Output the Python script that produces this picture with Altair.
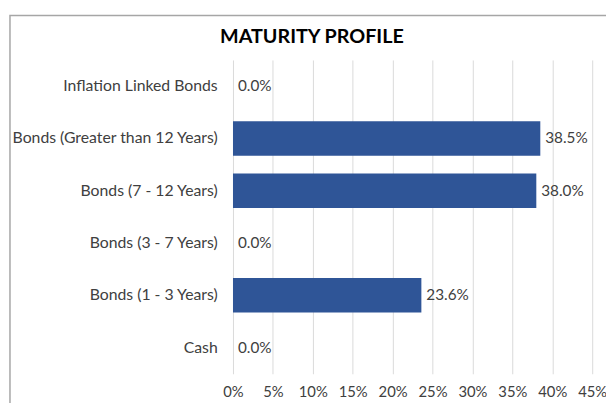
import altair as alt
import pandas as pd

categories = [
    "Inflation Linked Bonds",
    "Bonds (Greater than 12 Years)",
    "Bonds (7 - 12 Years)",
    "Bonds (3 - 7 Years)",
    "Bonds (1 - 3 Years)",
    "Cash",
]
values = [0.0, 0.385, 0.380, 0.0, 0.236, 0.0]
tick_values = [0, 0.05, 0.10, 0.15, 0.20, 0.25, 0.30, 0.35, 0.40, 0.45]
chart_title = ["MATURITY PROFILE"]

df = pd.DataFrame({"category": categories, "value": values})

FONT = "Lato"

base = alt.Chart(df)

y_enc = alt.Y(
    "category:N",
    sort=categories,
    title=None,
    scale=alt.Scale(paddingInner=0.34, paddingOuter=0.17),
    axis=alt.Axis(
        domain=False,
        ticks=False,
        labelPadding=16,
        labelFontSize=16,
        labelColor="#404040",
        labelFont=FONT,
        grid=False,
        labelLimit=300,
    ),
)

x_enc = alt.X(
    "value:Q",
    title=None,
    scale=alt.Scale(domain=[0, 0.45], nice=False),
    axis=alt.Axis(
        values=tick_values,
        format=".0%",
        domain=False,
        ticks=False,
        labelPadding=11,
        labelFontSize=15,
        labelColor="#404040",
        labelFont=FONT,
        grid=True,
        gridColor="#D9D9D9",
        labelFlush=False,
    ),
)

bars = base.mark_bar(color="#2F5597").encode(x=x_enc, y=y_enc)

labels = base.mark_text(
    align="left", baseline="middle", dx=5, fontSize=15.5, color="#404040", font=FONT
).encode(
    x="value:Q",
    y=alt.Y("category:N", sort=categories),
    text=alt.Text("value:Q", format=".1%"),
)

border = base.mark_rect(fill=None, stroke="#A6A6A6", strokeWidth=1.5).encode(
    x=alt.value(-226), x2=alt.value(420), y=alt.value(-45), y2=alt.value(380)
).transform_filter("datum.category == 'Cash'")

title = alt.Chart(pd.DataFrame({"t": chart_title})).mark_text(
    align="center", baseline="middle", fontSize=20, font=FONT, fontWeight="bold", color="#000000"
).encode(text="t:N", x=alt.value(80), y=alt.value(-23))

chart = alt.layer(border, bars, labels, title).properties(
    width=364,
    height=318,
    autosize=alt.AutoSizeParams(type="none"),
    padding={"left": 228, "top": 50, "right": 14, "bottom": 30},
).configure_view(stroke=None)

chart.save("out.html", embed_options={"renderer": "svg", "actions": False})
